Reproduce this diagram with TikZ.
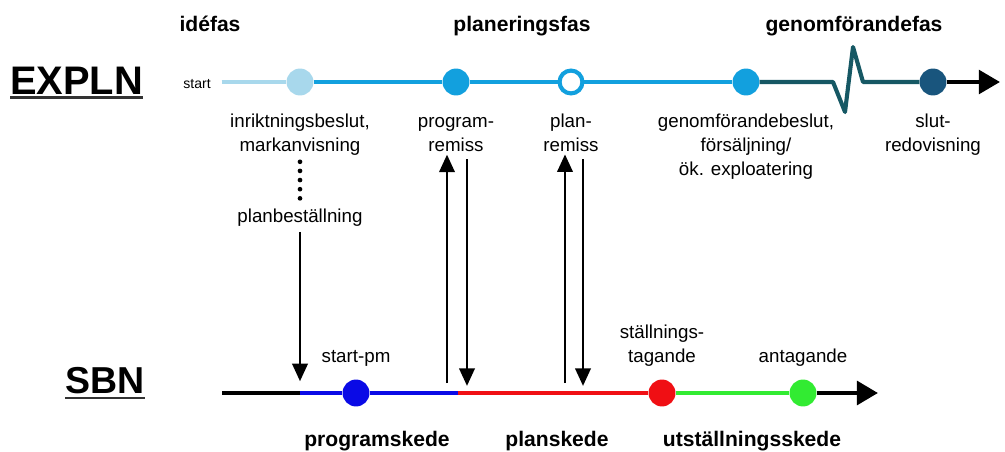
\documentclass[tikz,border=0pt]{standalone}
\usepackage{fontspec}
\setmainfont{Liberation Sans}
\usetikzlibrary{positioning, arrows.meta}
\definecolor{idelight}{RGB}{168,216,236}
\definecolor{expblue}{RGB}{18,160,222}
\definecolor{expdark}{RGB}{22,88,100}
\definecolor{expdot}{RGB}{25,85,125}
\definecolor{sbnblue}{RGB}{10,10,230}
\definecolor{sbnred}{RGB}{240,15,20}
\definecolor{sbngreen}{RGB}{50,235,50}

\begin{document}
\begin{tikzpicture}[x=0.03cm, y=-0.03cm, > = {Triangle[length=15pt, width=13pt]},
    dot/.style = {circle, inner sep=0pt, minimum size=23pt},
    ring/.style = {circle, inner sep=0pt, minimum size=19.5pt, draw=expblue, line width=3.5pt, fill=white},
    lbl/.style = {font=\fontsize{16}{20.4}\selectfont, align=center, inner sep=0pt},
    phase/.style = {font=\fontsize{18}{22}\selectfont\bfseries, inner sep=0pt, anchor=base},
    title/.style = {font=\fontsize{34}{40}\selectfont\bfseries, inner sep=0pt, anchor=base west},
    track/.style = {line width=3.5pt},
    bigtip/.style = {-{Triangle[length=18pt, width=20pt]}},
    link/.style = {line width=2.5pt, ->},
    dotline/.style = {line width=4pt, line cap=round, dash pattern=on 0pt off 7.8pt},
    ]
    \useasboundingbox (0,0) rectangle (1005,452);

    % row titles
    \node[title] (expln) at (10,95) {EXPLN};
    \draw[line width=2pt, black!80] ([yshift=-2pt]expln.base west) -- ([yshift=-2pt]expln.base east);
    \node[title, font=\fontsize{32}{38}\selectfont\bfseries] (sbn) at (65,393) {SBN};
    \draw[line width=2pt, black!80] ([yshift=-4pt]sbn.base west) -- ([yshift=-4pt]sbn.base east);

    % EXPLN phases
    \node[phase] (idefas) at (210,32) {idéfas};
    \node[phase] (planfas) at (522,32) {planeringsfas};
    \node[phase] (genfas) at (854,32) {genomförandefas};

    % EXPLN line
    \node[lbl, font=\fontsize{12}{14}\selectfont, anchor=base east] (startlbl) at (211,89) {start};
    \node[dot, fill=idelight] (d1) at (300,82) {};
    \node[dot, fill=expblue] (d2) at (456,82) {};
    \node[ring] (d3) at (571,82) {};
    \node[dot, fill=expblue] (d4) at (746,82) {};
    \node[dot, fill=expdot] (d5) at (933,82) {};
    \coordinate (z1) at (833,82);
    \coordinate (z2) at (845,112);
    \coordinate (z3) at (853,47);
    \coordinate (z4) at (863,82);
    \coordinate (tend) at (1000,82);
    \draw[track, idelight] ([xshift=9pt]startlbl.east |- d1) -- (d1);
    \draw[track, expblue] (d1) -- (d2) -- (d3) -- (d4);
    \draw[track, expdark, line join=round] (d4) -- (z1) -- (z2) -- (z3) -- (z4) -- (d5);
    \draw[track, black, bigtip] (d5) -- (tend);

    \node[lbl, below=13pt of d1] (inrikt) {\strut inriktningsbeslut,\\markanvisning};
    \node[lbl, below=13pt of d2] (progrem) {\strut program-\\remiss};
    \node[lbl, below=13pt of d3] (planrem) {\strut plan-\\remiss};
    \node[lbl, below=13pt of d4] (genbes) {\strut genomförandebeslut,\\försäljning/\\ök. exploatering};
    \node[lbl, below=13pt of d5] (slutred) {\strut slut-\\redovisning};
    \node[lbl, anchor=base] (planbest) at (300,222) {planbeställning};
    \draw[dotline, shorten <=5pt, shorten >=7pt] (inrikt) -- (planbest);

    % SBN line
    \coordinate (sstart) at (222,393);
    \coordinate (s0) at (300,393);
    \node[dot, fill=sbnblue] (spm) at (356,393) {};
    \coordinate (s1) at (458,393);
    \node[dot, fill=sbnred] (stg) at (662,393) {};
    \node[dot, fill=sbngreen] (ant) at (803,393) {};
    \coordinate (send) at (878,393);
    \draw[track, line width=4pt, black] (sstart) -- (s0);
    \draw[track, line width=4pt, sbnblue] (s0) -- (spm) -- (s1);
    \draw[track, line width=4pt, sbnred] (s1) -- (stg);
    \draw[track, line width=4pt, sbngreen] (stg) -- (ant);
    \draw[track, line width=4pt, black, bigtip] (ant) -- (send);

    \node[lbl, above=8pt of spm] (startpm) {start-pm\strut};
    \node[lbl, above=8pt of stg] (stallt) {ställnings-\\tagande\strut};
    \node[lbl, above=8pt of ant] (antag) {antagande\strut};

    % SBN stages
    \node[phase] (progsk) at (377,446) {programskede};
    \node[phase] (plansk) at (557,446) {planskede};
    \node[phase] (utsk) at (752,446) {utställningsskede};

    % links between the two lines
    \coordinate (pgUp) at (447,393);
    \coordinate (pgDn) at (467,393);
    \coordinate (plUp) at (565,393);
    \coordinate (plDn) at (583,393);
    \draw[link, shorten <=5pt, shorten >=10pt] (planbest) -- (s0);
    \draw[link, shorten <=8.5pt, shorten >=2pt] (pgUp) -- (pgUp |- progrem.south);
    \draw[link, shorten <=6pt, shorten >=6pt] (pgDn |- progrem.south) -- (pgDn);
    \draw[link, shorten <=8.5pt, shorten >=2pt] (plUp) -- (plUp |- planrem.south);
    \draw[link, shorten <=6pt, shorten >=6pt] (plDn |- planrem.south) -- (plDn);
\end{tikzpicture}
\end{document}
